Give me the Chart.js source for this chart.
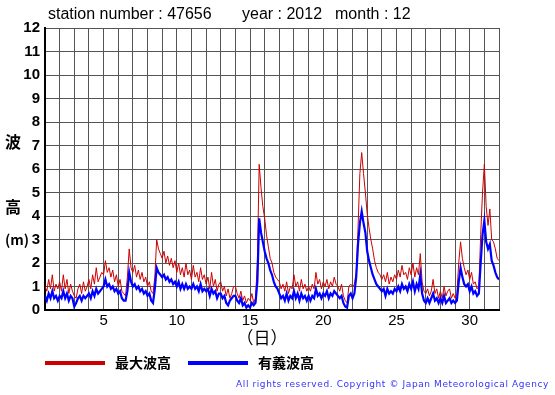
<!DOCTYPE html>
<html>
<head>
<meta charset="utf-8">
<script src="https://cdn.jsdelivr.net/npm/chart.js@4/dist/chart.umd.min.js"></script>
<style>
  html, body { margin: 0; padding: 0; background: #fff; }
  canvas { display: block; }
</style>
</head>
<body>
<canvas id="wave" width="555" height="395"></canvas>
<script>
// 2012年12月 地点47656 の波高（3時間ごと、日=1.0 から 32.0 まで）
const stationNumber = '47656';
const year = '2012';
const month = '12';

// 最大波高 (m)  1日あたり8個
const maxWave = [
  1.0, 0.8, 1.3, 0.9, 1.5, 0.8, 1.1, 0.9,   // 1
  1.2, 0.8, 1.5, 0.9, 1.3, 0.7, 1.1, 0.8,   // 2
  0.6, 0.5, 0.9, 1.1, 0.7, 1.2, 0.8, 1.0,   // 3
  1.3, 0.9, 1.5, 1.1, 1.8, 1.2, 1.4, 1.6,   // 4
  1.5, 2.1, 1.6, 1.8, 1.4, 1.7, 1.2, 1.5,   // 5
  1.0, 1.3, 0.8, 0.7, 0.6, 1.4, 2.6, 1.8,   // 6
  1.6, 1.9, 1.4, 1.7, 1.3, 1.6, 1.2, 1.4,   // 7
  1.0, 1.2, 0.8, 0.7, 1.4, 3.0, 2.6, 2.4,   // 8
  2.2, 2.5, 2.0, 2.3, 1.9, 2.2, 1.8, 2.1,   // 9
  1.6, 2.0, 1.5, 1.8, 1.4, 2.0, 1.5, 1.7,   // 10
  1.3, 1.9, 1.4, 1.6, 1.2, 1.8, 1.3, 1.5,   // 11
  1.1, 1.4, 0.9, 1.6, 1.0, 1.3, 0.8, 1.1,   // 12
  1.2, 0.8, 1.0, 0.6, 0.9, 0.5, 0.7, 1.0,   // 13
  1.0, 0.7, 0.5, 0.8, 0.4, 0.6, 0.3, 0.5,   // 14
  0.4, 0.7, 0.3, 0.5, 2.0, 6.2, 5.2, 4.4,   // 15
  3.9, 3.2, 2.7, 2.2, 2.0, 1.6, 1.4, 1.3,   // 16
  1.2, 0.9, 1.1, 0.8, 1.2, 0.7, 1.0, 0.9,   // 17
  1.5, 1.0, 1.2, 0.8, 1.3, 0.9, 1.1, 0.8,   // 18
  1.0, 0.8, 1.1, 0.9, 1.6, 1.1, 1.3, 0.9,   // 19
  1.2, 1.0, 1.3, 0.9, 1.2, 1.0, 1.4, 1.1,   // 20
  1.0, 0.8, 1.1, 0.6, 0.4, 0.3, 1.0, 1.1,   // 21
  1.0, 1.1, 1.6, 3.5, 5.8, 6.7, 5.8, 5.0,   // 22
  4.1, 3.5, 3.0, 2.6, 2.1, 1.8, 1.6, 1.5,   // 23
  1.3, 1.5, 1.2, 1.6, 1.1, 1.4, 1.2, 1.5,   // 24
  1.3, 1.7, 1.4, 1.9, 1.5, 1.6, 1.3, 1.8,   // 25
  1.5, 2.0, 1.4, 1.8, 1.5, 2.4, 1.2, 0.8,   // 26
  0.7, 0.9, 0.6, 0.8, 1.3, 0.7, 0.9, 0.5,   // 27
  0.8, 0.5, 1.0, 0.6, 0.8, 0.9, 0.5, 0.7,   // 28
  0.5, 0.7, 2.0, 2.9, 2.2, 1.8, 1.5, 1.7,   // 29
  1.3, 1.6, 1.1, 1.2, 0.9, 1.0, 3.2, 5.0,   // 30
  6.2, 4.4, 3.6, 4.3, 3.0, 2.9, 2.6, 2.2,   // 31
  2.1
];

// 有義波高 (m)
const sigWave = [
  0.6, 0.4, 0.7, 0.5, 0.8, 0.5, 0.6, 0.4,   // 1
  0.6, 0.5, 0.8, 0.5, 0.7, 0.4, 0.6, 0.5,   // 2
  0.15, 0.3, 0.5, 0.6, 0.4, 0.6, 0.5, 0.6,  // 3
  0.7, 0.5, 0.8, 0.6, 0.9, 0.7, 0.8, 0.9,   // 4
  1.0, 1.3, 1.0, 1.1, 0.9, 1.0, 0.8, 0.9,   // 5
  0.7, 0.8, 0.5, 0.4, 0.4, 0.8, 1.6, 1.2,   // 6
  1.0, 1.1, 0.9, 1.0, 0.8, 0.9, 0.7, 0.8,   // 7
  0.6, 0.7, 0.4, 0.3, 0.9, 1.8, 1.6, 1.5,   // 8
  1.4, 1.5, 1.3, 1.4, 1.2, 1.3, 1.1, 1.2,   // 9
  1.0, 1.2, 0.9, 1.1, 0.9, 1.1, 0.9, 1.0,   // 10
  0.9, 1.1, 0.9, 1.0, 0.8, 1.1, 0.8, 0.9,   // 11
  0.8, 0.9, 0.6, 0.9, 0.7, 0.8, 0.5, 0.7,   // 12
  0.7, 0.5, 0.6, 0.3, 0.2, 0.4, 0.5, 0.6,   // 13
  0.6, 0.4, 0.3, 0.5, 0.2, 0.3, 0.1, 0.2,   // 14
  0.1, 0.3, 0.2, 0.3, 1.2, 3.9, 3.3, 2.9,   // 15
  2.5, 2.2, 2.0, 1.7, 1.5, 1.2, 1.0, 0.9,   // 16
  0.7, 0.5, 0.6, 0.4, 0.7, 0.4, 0.6, 0.5,   // 17
  0.8, 0.5, 0.7, 0.4, 0.7, 0.5, 0.6, 0.4,   // 18
  0.6, 0.4, 0.6, 0.5, 0.9, 0.6, 0.7, 0.5,   // 19
  0.7, 0.6, 0.8, 0.5, 0.7, 0.6, 0.8, 0.7,   // 20
  0.6, 0.5, 0.6, 0.3, 0.15, 0.1, 0.6, 0.7,  // 21
  0.5, 0.7, 1.4, 2.8, 3.7, 4.2, 3.7, 3.3,   // 22
  2.5, 2.1, 1.8, 1.5, 1.3, 1.1, 1.0, 0.9,   // 23
  0.8, 0.9, 0.6, 0.9, 0.7, 0.8, 0.7, 0.9,   // 24
  0.8, 1.0, 0.8, 1.1, 0.9, 1.0, 0.8, 1.1,   // 25
  0.9, 1.2, 0.8, 1.1, 0.9, 1.5, 0.7, 0.4,   // 26
  0.3, 0.5, 0.3, 0.5, 0.7, 0.4, 0.5, 0.3,   // 27
  0.5, 0.3, 0.6, 0.3, 0.4, 0.5, 0.3, 0.4,   // 28
  0.3, 0.4, 1.2, 1.8, 1.4, 1.1, 1.0, 1.1,   // 29
  0.8, 1.0, 0.7, 0.8, 0.6, 0.7, 2.0, 3.2,   // 30
  3.8, 2.9, 2.6, 2.8, 2.1, 1.9, 1.6, 1.4,   // 31
  1.3
];

const xTickLabels = [5, 10, 15, 20, 25, 30];
const yMax = 12;

// 3時間ごと -> 日単位のx
const toPoints = arr => arr.map((v, i) => ({ x: 1 + i / 8, y: v }));

// 枠外の文字（タイトル、軸名、凡例、著作権）
const extraText = {
  id: 'extraText',
  afterDraw(chart) {
    const ctx = chart.ctx;
    ctx.save();
    ctx.fillStyle = '#000';
    ctx.textBaseline = 'middle';
    ctx.font = '16px "Liberation Sans", Arial, sans-serif';
    ctx.textAlign = 'left';
    ctx.fillText('station number : ' + stationNumber, 48, 15);
    ctx.fillText('year : ' + year, 242, 15);
    ctx.fillText('month : ' + month, 335, 15);

    ctx.font = 'bold 16px "Noto Sans CJK JP", sans-serif';
    ctx.textAlign = 'center';
    ctx.fillText('波', 13, 142);
    ctx.fillText('高', 13, 207);
    ctx.font = 'bold 14px "Noto Sans CJK JP", sans-serif';
    ctx.fillText('(m)', 17, 240);
    ctx.font = '17px "Noto Sans CJK JP", sans-serif';
    ctx.fillText('（日）', 262, 338);

    // 凡例
    ctx.lineWidth = 4;
    ctx.strokeStyle = '#cc0000';
    ctx.beginPath(); ctx.moveTo(45, 363); ctx.lineTo(105, 363); ctx.stroke();
    ctx.strokeStyle = '#0000ff';
    ctx.beginPath(); ctx.moveTo(188, 363); ctx.lineTo(248, 363); ctx.stroke();
    ctx.font = 'bold 14px "Noto Sans CJK JP", sans-serif';
    ctx.textAlign = 'left';
    ctx.fillText('最大波高', 115, 363);
    ctx.fillText('有義波高', 258, 363);

    ctx.fillStyle = '#3333ff';
    ctx.font = '9px "DejaVu Sans", sans-serif';
    ctx.letterSpacing = '0.6px';
    ctx.textAlign = 'right';
    ctx.fillText('All rights reserved. Copyright © Japan Meteorological Agency', 549, 385);
    ctx.restore();
  }
};

new Chart(document.getElementById('wave'), {
  type: 'line',
  data: {
    datasets: [
      {
        label: '有義波高',
        data: toPoints(sigWave),
        borderColor: '#0000ff',
        borderWidth: 2.2,
        pointRadius: 0,
        tension: 0,
        order: 0
      },
      {
        label: '最大波高',
        data: toPoints(maxWave),
        borderColor: '#cc0000',
        borderWidth: 1,
        pointRadius: 0,
        tension: 0,
        order: 1
      }
    ]
  },
  options: {
    responsive: false,
    animation: false,
    layout: { padding: { top: 28, right: 56, left: 0, bottom: 0 } },
    plugins: {
      legend: { display: false },
      title: { display: false },
      tooltip: { enabled: false }
    },
    scales: {
      x: {
        type: 'linear',
        min: 1,
        max: 32,
        afterFit(scale) { scale.height = 85; },
        afterBuildTicks(scale) {
          const t = [];
          for (let d = 1; d <= 32; d++) t.push({ value: d });
          scale.ticks = t;
        },
        ticks: {
          autoSkip: false,
          maxRotation: 0,
          padding: 2,
          color: '#000',
          font: { family: '"Liberation Sans", Arial, sans-serif', size: 15 },
          callback: v => (xTickLabels.includes(v) ? String(v) : '')
        },
        grid: { color: '#555', lineWidth: 1, drawTicks: false },
        border: { color: '#000', width: 2 }
      },
      y: {
        min: 0,
        max: yMax,
        afterFit(scale) { scale.width = 45; },
        ticks: {
          stepSize: 1,
          padding: 5,
          color: '#000',
          font: { family: '"Liberation Sans", Arial, sans-serif', size: 15, weight: 'bold' }
        },
        grid: { color: '#555', lineWidth: 1, drawTicks: false },
        border: { color: '#000', width: 2 }
      }
    }
  },
  plugins: [extraText]
});
</script>
</body>
</html>
